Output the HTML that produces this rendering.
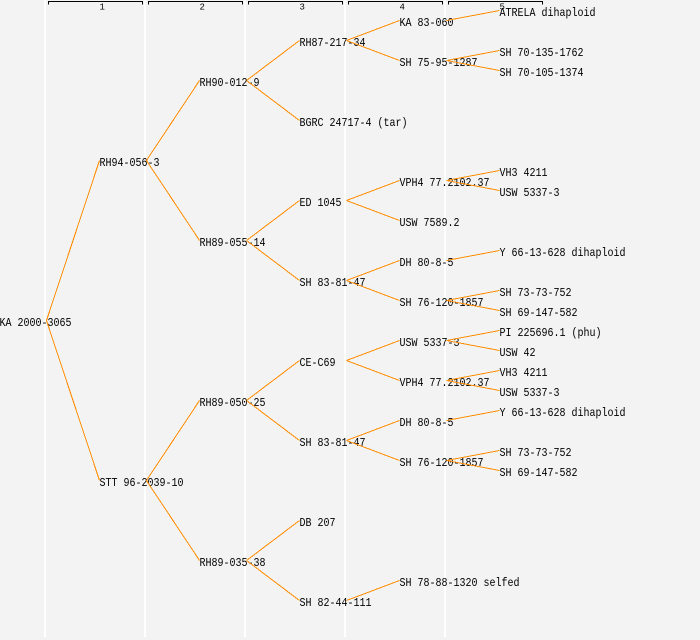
<!DOCTYPE html>
<html><head><meta charset="utf-8"><style>
html,body{margin:0;padding:0;background:#f3f3f3;}
svg{display:block;}
text{font-family:"Liberation Mono",monospace;font-size:12px;fill:#000;}
.h{font-size:9px;}
</style></head><body>
<svg width="700" height="640" viewBox="0 0 700 640" xmlns="http://www.w3.org/2000/svg">
<rect x="0" y="0" width="700" height="640" fill="#f3f3f3"/>
<g fill="#ffffff">
<rect x="44" y="0" width="2" height="637"/>
<rect x="144" y="0" width="2" height="637"/>
<rect x="244" y="0" width="2" height="637"/>
<rect x="344" y="0" width="2" height="637"/>
<rect x="444" y="0" width="2" height="637"/>
</g>
<g stroke="#000" stroke-width="1" fill="none" shape-rendering="crispEdges">
<path d="M48.5 4.5V1.5H142.5V4.5"/>
<path d="M148.5 4.5V1.5H242.5V4.5"/>
<path d="M248.5 4.5V1.5H342.5V4.5"/>
<path d="M348.5 4.5V1.5H442.5V4.5"/>
<path d="M448.5 4.5V1.5H542.5V4.5"/>
</g>
<g class="h">
<text class="h" x="99.5" y="9.5">1</text>
<text class="h" x="199.5" y="9.5">2</text>
<text class="h" x="299.5" y="9.5">3</text>
<text class="h" x="399.5" y="9.5">4</text>
<text class="h" x="499.5" y="9.5">5</text>
</g>
<g>
<text x="-0.5" y="326" textLength="72" lengthAdjust="spacingAndGlyphs">KA 2000-3065</text>
<text x="99.5" y="166" textLength="60" lengthAdjust="spacingAndGlyphs">RH94-056-3</text>
<text x="99.5" y="486" textLength="84" lengthAdjust="spacingAndGlyphs">STT 96-2039-10</text>
<text x="199.5" y="86" textLength="60" lengthAdjust="spacingAndGlyphs">RH90-012-9</text>
<text x="199.5" y="246" textLength="66" lengthAdjust="spacingAndGlyphs">RH89-055-14</text>
<text x="199.5" y="406" textLength="66" lengthAdjust="spacingAndGlyphs">RH89-050-25</text>
<text x="199.5" y="566" textLength="66" lengthAdjust="spacingAndGlyphs">RH89-035-38</text>
<text x="299.5" y="46" textLength="66" lengthAdjust="spacingAndGlyphs">RH87-217-34</text>
<text x="299.5" y="126" textLength="108" lengthAdjust="spacingAndGlyphs">BGRC 24717-4 (tar)</text>
<text x="299.5" y="206" textLength="42" lengthAdjust="spacingAndGlyphs">ED 1045</text>
<text x="299.5" y="286" textLength="66" lengthAdjust="spacingAndGlyphs">SH 83-81-47</text>
<text x="299.5" y="366" textLength="36" lengthAdjust="spacingAndGlyphs">CE-C69</text>
<text x="299.5" y="446" textLength="66" lengthAdjust="spacingAndGlyphs">SH 83-81-47</text>
<text x="299.5" y="526" textLength="36" lengthAdjust="spacingAndGlyphs">DB 207</text>
<text x="299.5" y="606" textLength="72" lengthAdjust="spacingAndGlyphs">SH 82-44-111</text>
<text x="399.5" y="26" textLength="54" lengthAdjust="spacingAndGlyphs">KA 83-060</text>
<text x="399.5" y="66" textLength="78" lengthAdjust="spacingAndGlyphs">SH 75-95-1287</text>
<text x="399.5" y="186" textLength="90" lengthAdjust="spacingAndGlyphs">VPH4 77.2102.37</text>
<text x="399.5" y="226" textLength="60" lengthAdjust="spacingAndGlyphs">USW 7589.2</text>
<text x="399.5" y="266" textLength="54" lengthAdjust="spacingAndGlyphs">DH 80-8-5</text>
<text x="399.5" y="306" textLength="84" lengthAdjust="spacingAndGlyphs">SH 76-120-1857</text>
<text x="399.5" y="346" textLength="60" lengthAdjust="spacingAndGlyphs">USW 5337-3</text>
<text x="399.5" y="386" textLength="90" lengthAdjust="spacingAndGlyphs">VPH4 77.2102.37</text>
<text x="399.5" y="426" textLength="54" lengthAdjust="spacingAndGlyphs">DH 80-8-5</text>
<text x="399.5" y="466" textLength="84" lengthAdjust="spacingAndGlyphs">SH 76-120-1857</text>
<text x="399.5" y="586" textLength="120" lengthAdjust="spacingAndGlyphs">SH 78-88-1320 selfed</text>
<text x="499.5" y="16" textLength="96" lengthAdjust="spacingAndGlyphs">ATRELA dihaploid</text>
<text x="499.5" y="56" textLength="84" lengthAdjust="spacingAndGlyphs">SH 70-135-1762</text>
<text x="499.5" y="76" textLength="84" lengthAdjust="spacingAndGlyphs">SH 70-105-1374</text>
<text x="499.5" y="176" textLength="48" lengthAdjust="spacingAndGlyphs">VH3 4211</text>
<text x="499.5" y="196" textLength="60" lengthAdjust="spacingAndGlyphs">USW 5337-3</text>
<text x="499.5" y="256" textLength="126" lengthAdjust="spacingAndGlyphs">Y 66-13-628 dihaploid</text>
<text x="499.5" y="296" textLength="72" lengthAdjust="spacingAndGlyphs">SH 73-73-752</text>
<text x="499.5" y="316" textLength="78" lengthAdjust="spacingAndGlyphs">SH 69-147-582</text>
<text x="499.5" y="336" textLength="102" lengthAdjust="spacingAndGlyphs">PI 225696.1 (phu)</text>
<text x="499.5" y="356" textLength="36" lengthAdjust="spacingAndGlyphs">USW 42</text>
<text x="499.5" y="376" textLength="48" lengthAdjust="spacingAndGlyphs">VH3 4211</text>
<text x="499.5" y="396" textLength="60" lengthAdjust="spacingAndGlyphs">USW 5337-3</text>
<text x="499.5" y="416" textLength="126" lengthAdjust="spacingAndGlyphs">Y 66-13-628 dihaploid</text>
<text x="499.5" y="456" textLength="72" lengthAdjust="spacingAndGlyphs">SH 73-73-752</text>
<text x="499.5" y="476" textLength="78" lengthAdjust="spacingAndGlyphs">SH 69-147-582</text>
</g>
<g stroke="#ff8c00" stroke-width="1" fill="none" shape-rendering="crispEdges">
<line x1="46.5" y1="320.5" x2="99.5" y2="160.5"/>
<line x1="46.5" y1="320.5" x2="99.5" y2="480.5"/>
<line x1="146.5" y1="160.5" x2="199.5" y2="80.5"/>
<line x1="146.5" y1="160.5" x2="199.5" y2="240.5"/>
<line x1="146.5" y1="480.5" x2="199.5" y2="400.5"/>
<line x1="146.5" y1="480.5" x2="199.5" y2="560.5"/>
<line x1="246.5" y1="80.5" x2="299.5" y2="40.5"/>
<line x1="246.5" y1="80.5" x2="299.5" y2="120.5"/>
<line x1="246.5" y1="240.5" x2="299.5" y2="200.5"/>
<line x1="246.5" y1="240.5" x2="299.5" y2="280.5"/>
<line x1="246.5" y1="400.5" x2="299.5" y2="360.5"/>
<line x1="246.5" y1="400.5" x2="299.5" y2="440.5"/>
<line x1="246.5" y1="560.5" x2="299.5" y2="520.5"/>
<line x1="246.5" y1="560.5" x2="299.5" y2="600.5"/>
<line x1="346.5" y1="40.5" x2="399.5" y2="20.5"/>
<line x1="346.5" y1="40.5" x2="399.5" y2="60.5"/>
<line x1="346.5" y1="200.5" x2="399.5" y2="180.5"/>
<line x1="346.5" y1="200.5" x2="399.5" y2="220.5"/>
<line x1="346.5" y1="280.5" x2="399.5" y2="260.5"/>
<line x1="346.5" y1="280.5" x2="399.5" y2="300.5"/>
<line x1="346.5" y1="360.5" x2="399.5" y2="340.5"/>
<line x1="346.5" y1="360.5" x2="399.5" y2="380.5"/>
<line x1="346.5" y1="440.5" x2="399.5" y2="420.5"/>
<line x1="346.5" y1="440.5" x2="399.5" y2="460.5"/>
<line x1="346.5" y1="600.5" x2="399.5" y2="580.5"/>
<line x1="446.5" y1="20.5" x2="499.5" y2="10.5"/>
<line x1="446.5" y1="60.5" x2="499.5" y2="50.5"/>
<line x1="446.5" y1="60.5" x2="499.5" y2="70.5"/>
<line x1="446.5" y1="180.5" x2="499.5" y2="170.5"/>
<line x1="446.5" y1="180.5" x2="499.5" y2="190.5"/>
<line x1="446.5" y1="260.5" x2="499.5" y2="250.5"/>
<line x1="446.5" y1="300.5" x2="499.5" y2="290.5"/>
<line x1="446.5" y1="300.5" x2="499.5" y2="310.5"/>
<line x1="446.5" y1="340.5" x2="499.5" y2="330.5"/>
<line x1="446.5" y1="340.5" x2="499.5" y2="350.5"/>
<line x1="446.5" y1="380.5" x2="499.5" y2="370.5"/>
<line x1="446.5" y1="380.5" x2="499.5" y2="390.5"/>
<line x1="446.5" y1="420.5" x2="499.5" y2="410.5"/>
<line x1="446.5" y1="460.5" x2="499.5" y2="450.5"/>
<line x1="446.5" y1="460.5" x2="499.5" y2="470.5"/>
</g>
</svg>
</body></html>
